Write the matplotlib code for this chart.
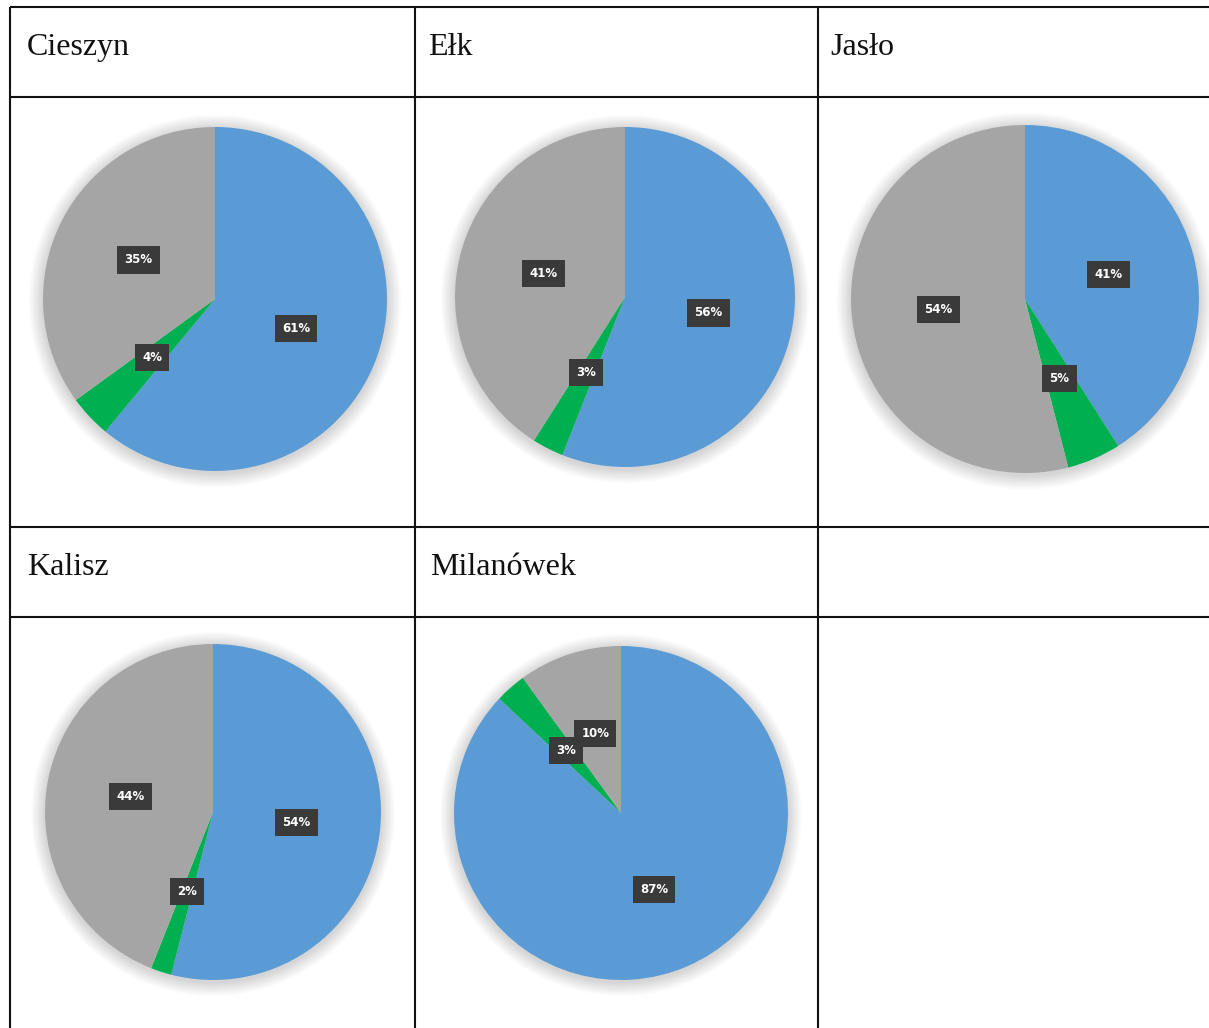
import matplotlib
matplotlib.use("Agg")
import matplotlib.pyplot as plt
from matplotlib.patches import Circle

# ---- data ----
cities = ["Cieszyn", "Ełk", "Jasło", "Kalisz", "Milanówek"]
share_blue = [61, 56, 41, 54, 87]
share_green = [4, 3, 5, 2, 3]
share_gray = [35, 41, 54, 44, 10]

colors = ["#5B9BD5", "#00B050", "#A5A5A5"]

W, H = 1209, 1028
fig = plt.figure(figsize=(W / 100, H / 100), dpi=100)
fig.patch.set_facecolor("white")

# background axes in pixel coordinates for the table grid
bg = fig.add_axes([0, 0, 1, 1])
bg.set_xlim(0, W)
bg.set_ylim(H, 0)
bg.axis("off")

vlines = [10, 415, 818]
hlines = [7, 97, 527, 617]
for x in vlines:
    bg.plot([x, x], [7, H], color="#111111", lw=1.5, solid_capstyle="butt")
for y in hlines:
    bg.plot([10, W], [y, y], color="#111111", lw=1.5, solid_capstyle="butt")

# titles
title_pos = [(27, 55), (428, 55), (830, 55), (27, 575), (430, 575)]
for name, (tx, ty) in zip(cities, title_pos):
    bg.text(tx, ty, name, fontsize=23, family="Liberation Serif",
            color="#111111", va="baseline", ha="left")

# pie geometry (pixel centre, radius)
pie_geom = [(215, 299, 172), (625, 297, 170), (1025, 299, 174),
            (213, 812, 168), (621, 813, 167)]

for i, (cx, cy, r) in enumerate(pie_geom):
    m = 1.15
    ax = fig.add_axes([(cx - m * r) / W, 1 - (cy + m * r) / H,
                       2 * m * r / W, 2 * m * r / H])
    # soft shadow
    for k in range(14):
        rr = 1.0 + 0.006 * (k + 1)
        ax.add_patch(Circle((0.0, -0.012), rr, color="#000000",
                            alpha=0.012, lw=0, zorder=0))
    vals = [share_blue[i], share_green[i], share_gray[i]]
    wedges, texts = ax.pie(vals, colors=colors, startangle=90, counterclock=False,
                           radius=1.0, labels=[f"{v}%" for v in vals],
                           labeldistance=0.5,
                           wedgeprops=dict(linewidth=0, zorder=2))
    ax.set_xlim(-m, m)
    ax.set_ylim(-m, m)
    ax.set_aspect("equal")
    ax.axis("off")
    for t in texts:
        t.set_fontsize(8.5)
        t.set_fontweight("bold")
        t.set_color("white")
        t.set_ha("center")
        t.set_va("center")
        t.set_zorder(5)
        t.set_bbox(dict(boxstyle="square,pad=0.6", facecolor="#3A3A3A",
                        edgecolor="none"))

fig.savefig("out.png", dpi=100, facecolor="white")
